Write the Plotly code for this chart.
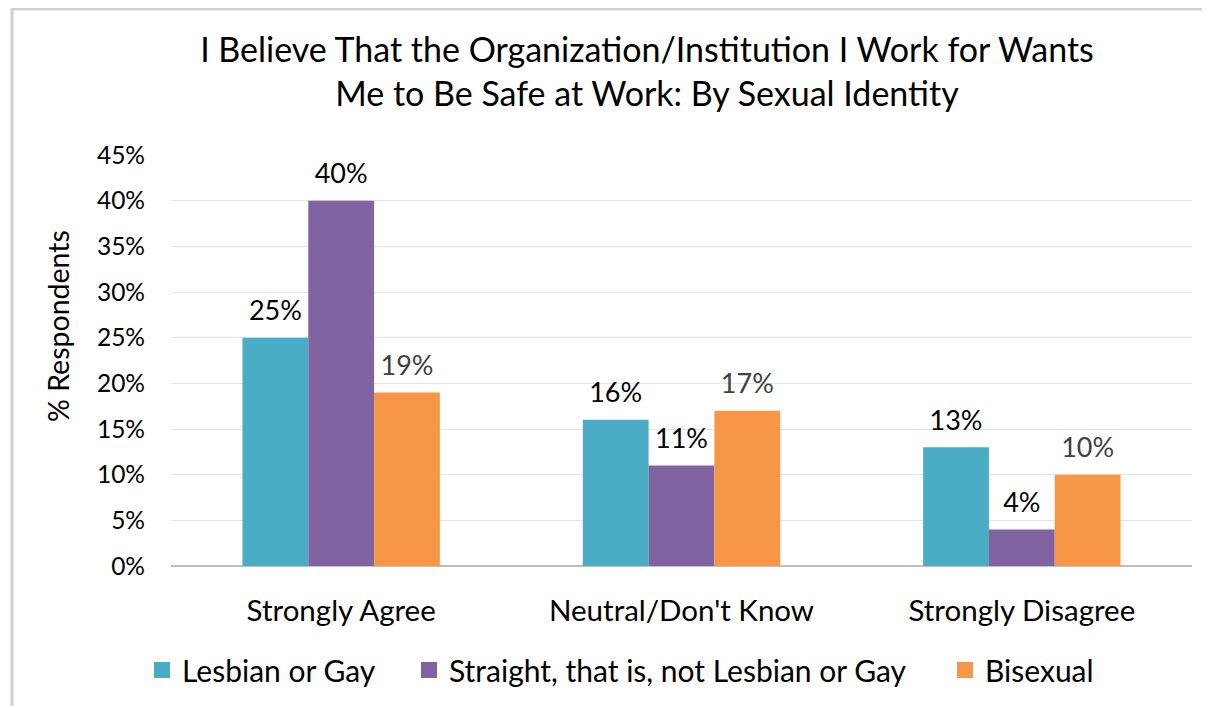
import plotly.graph_objects as go

# survey answers by sexual identity
categories = ["Strongly Agree", "Neutral/Don't Know", "Strongly Disagree"]
lesbian_gay = [0.25, 0.16, 0.13]
straight = [0.40, 0.11, 0.04]
bisexual = [0.19, 0.17, 0.10]
y_ticks = [0, 0.05, 0.10, 0.15, 0.20, 0.25, 0.30, 0.35, 0.40, 0.45]

FONT = "Lato"

series = [
    ("Lesbian or Gay", lesbian_gay, "#4BACC6", "#000000"),
    ("Straight, that is, not Lesbian or Gay", straight, "#8064A2", "#000000"),
    ("Bisexual", bisexual, "#F79646", "#404040"),
]

fig = go.Figure()
# bars
for name, vals, col, txtcol in series:
    fig.add_trace(go.Bar(
        x=categories, y=vals, name=name, showlegend=False,
        marker=dict(color=col, line=dict(width=0)),
    ))
# value labels, grouped like the bars, a bit above each bar top
for name, vals, col, txtcol in series:
    fig.add_trace(go.Scatter(
        x=categories, y=vals, mode="markers+text", showlegend=False,
        marker=dict(size=16, opacity=0),
        text=[f"{v*100:.0f}%" for v in vals],
        textposition="top center",
        textfont=dict(family=FONT, size=27, color=txtcol),
        cliponaxis=False, hoverinfo="skip",
    ))
# legend entries (on a hidden overlay axis so they don't join the grouping)
legend_keys = ["legend", "legend2", "legend3"]
for (name, vals, col, txtcol), lg in zip(series, legend_keys):
    fig.add_trace(go.Scatter(
        x=[None], y=[None], mode="markers", name=name, legend=lg,
        marker=dict(symbol="square", size=20, color=col),
        xaxis="x2", yaxis="y2", showlegend=True,
    ))

legend_x = [-0.0284, 0.2331, 0.7581]
leg_common = dict(orientation="h", xanchor="left", y=-0.253, yanchor="middle",
                  font=dict(family=FONT, size=30, color="#000000"),
                  itemsizing="trace", bgcolor="rgba(0,0,0,0)")

fig.update_layout(
    width=1210, height=706,
    margin=dict(l=163, r=26, t=147, b=148),
    paper_bgcolor="white", plot_bgcolor="white",
    barmode="group", bargap=0.42, bargroupgap=0,
    scattermode="group", scattergap=0.42,
    font=dict(family=FONT, color="#000000"),
    title=dict(
        text="I Believe That the Organization/Institution I Work for Wants<br>Me to Be Safe at Work: By Sexual Identity",
        x=0.4662, xanchor="center", xref="paper", y=0.924, yanchor="middle",
        font=dict(family=FONT, size=34, color="#000000"),
    ),
    legend=dict(x=legend_x[0], **leg_common),
    legend2=dict(x=legend_x[1], **leg_common),
    legend3=dict(x=legend_x[2], **leg_common),
    xaxis=dict(
        tickfont=dict(family=FONT, size=29.5, color="#000000"),
        ticklabelstandoff=24,
        showline=False, ticks="",
    ),
    yaxis=dict(
        range=[0, 0.45], tickvals=y_ticks,
        ticktext=[f"{t*100:.0f}%" for t in y_ticks],
        tickfont=dict(family=FONT, size=24.5, color="#000000"),
        ticklabelstandoff=25,
        showgrid=True, gridcolor="#E4E4E4", gridwidth=1,
        zeroline=True, zerolinecolor="#BFBFBF", zerolinewidth=1.5,
        ticks="", ticklen=0,
    ),
    xaxis2=dict(overlaying="x", visible=False),
    yaxis2=dict(overlaying="y", visible=False),
)
# y axis title, placed as in the original
fig.add_annotation(text="% Respondents", textangle=-90, xref="paper", yref="paper",
                   x=-0.1107, y=0.584, xanchor="center", yanchor="middle",
                   showarrow=False, font=dict(family=FONT, size=28.5, color="#000000"))
# outer frame of the figure box
fig.add_shape(type="rect", xref="paper", yref="paper",
              x0=-0.1557, x1=1.2, y0=-0.5, y1=1.355,
              line=dict(color="#D0D0D0", width=3), fillcolor="rgba(0,0,0,0)", layer="below")

fig.write_html("out.html")
